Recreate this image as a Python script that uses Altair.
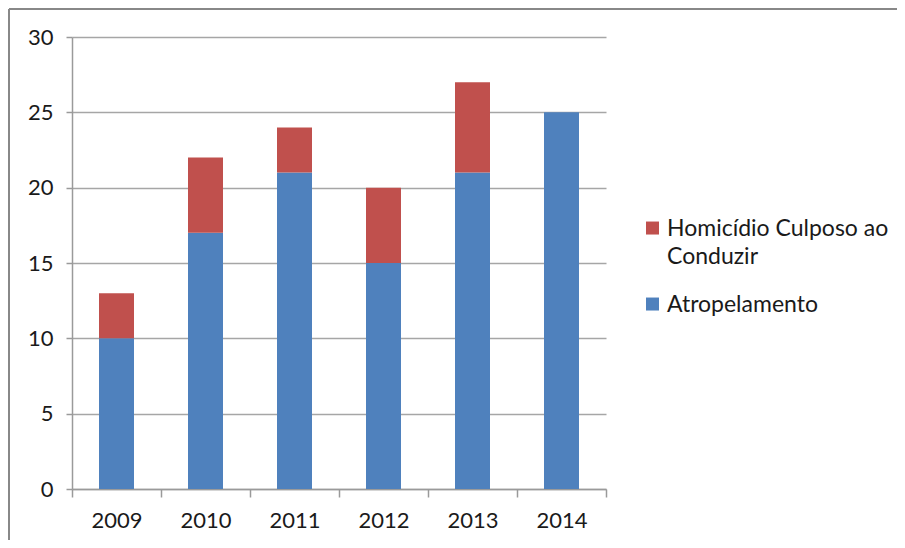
import altair as alt
import pandas as pd

years = ["2009", "2010", "2011", "2012", "2013", "2014"]
atropelamento = [10, 17, 21, 15, 21, 25]
homicidio = [3, 5, 3, 5, 6, 0]
series = ["Homicídio Culposo ao Conduzir", "Atropelamento"]
colors = ["#C0504D", "#4F81BD"]
y_ticks = [0, 5, 10, 15, 20, 25, 30]

rows = []
for i, y in enumerate(years):
    rows.append({"year": y, "series": series[1], "value": atropelamento[i], "ord": 0})
    rows.append({"year": y, "series": series[0], "value": homicidio[i], "ord": 1})
df = pd.DataFrame(rows)

FONT = "Lato"
W, H = 534, 452

bars = alt.Chart(df).mark_bar(width=35).encode(
    x=alt.X("year:N", sort=years, title=None,
            scale=alt.Scale(paddingInner=0, paddingOuter=0),
            axis=alt.Axis(tickBand="extent", labelAngle=0, labelFontSize=22,
                          labelFont=FONT, labelColor="#1a1a1a", labelPadding=13,
                          tickSize=8, tickColor="#9a9a9a", tickWidth=1.5,
                          domainColor="#9a9a9a", domainWidth=1.5, grid=False)),
    y=alt.Y("value:Q", stack="zero", title=None,
            scale=alt.Scale(domain=[0, 30], nice=False),
            axis=alt.Axis(values=y_ticks, labelFontSize=22, labelFont=FONT,
                          labelColor="#1a1a1a", labelPadding=13,
                          tickSize=6, tickColor="#9a9a9a", tickWidth=1.5,
                          domainColor="#9a9a9a", domainWidth=1.5,
                          grid=True, gridColor="#a6a6a6", gridWidth=1.5)),
    color=alt.Color("series:N",
                    scale=alt.Scale(domain=series, range=colors),
                    legend=alt.Legend(
                        title=None, orient="none", legendX=569, legendY=169,
                        symbolType="M-1,0.62H1V2.62H-1Z", symbolSize=169,
                        symbolStrokeWidth=0,
                        labelFont=FONT, labelFontSize=23, labelColor="#1a1a1a",
                        labelBaseline="top", labelOffset=3, rowPadding=13,
                        labelExpr="datum.label == 'Homicídio Culposo ao Conduzir' ? ['Homicídio Culposo ao', 'Conduzir'] : datum.label",
                        labelLimit=400)),
    order=alt.Order("ord:Q"),
)

border_top = alt.Chart(pd.DataFrame({"k": [0]})).mark_rule(
    color="#888888", strokeWidth=2).encode(
    x=alt.value(-63), x2=alt.value(900), y=alt.value(-28))
border_left = alt.Chart(pd.DataFrame({"k": [0]})).mark_rule(
    color="#888888", strokeWidth=2).encode(
    x=alt.value(-63), y=alt.value(-28), y2=alt.value(520))

chart = alt.layer(bars, border_top, border_left).properties(
    width=W, height=H,
    autosize=alt.AutoSizeParams(type="none"),
    padding={"left": 64, "top": 29, "right": 291, "bottom": 51},
).configure(
    background="white",
    view=alt.ViewConfig(strokeWidth=0),
    style={"guide-label": {"lineHeight": 28}},
)

chart.save("out.html", embed_options={"renderer": "svg", "actions": False})
